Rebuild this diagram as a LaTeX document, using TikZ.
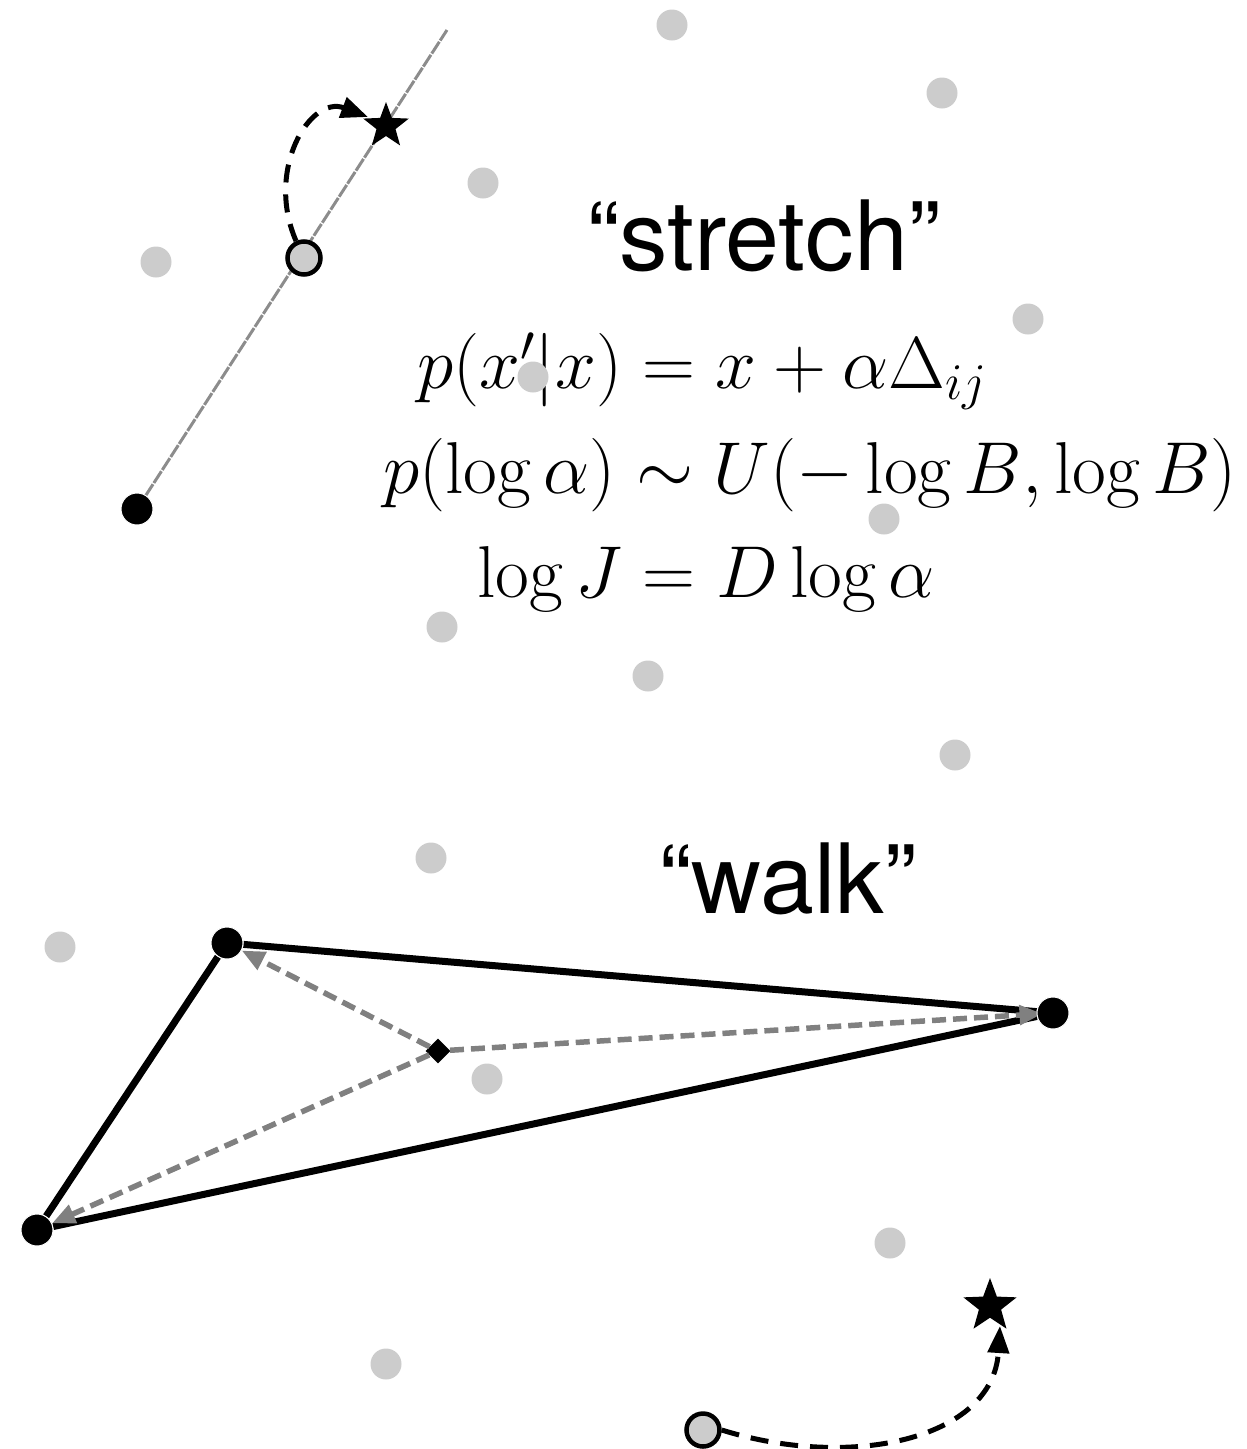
\RequirePackage{fix-cm}
\documentclass[tikz,border=0pt]{standalone}
\usepackage{fontspec}
\newfontfamily\labelfont{TeX Gyre Heros}
\usetikzlibrary{shapes.geometric,arrows.meta}
\tikzset{
  bgdot/.style={circle, fill=black!20, minimum size=31pt, inner sep=0pt},
  blackdot/.style={circle, fill=black, draw=white, line width=1pt, minimum size=32pt, inner sep=0pt},
  opendot/.style={circle, fill=black!20, draw=black, line width=4.5pt, minimum size=33pt, inner sep=0pt},
  starmark/.style={star, star points=5, star point ratio=2.4, fill=black, minimum size=48pt, inner sep=0pt},
  diamark/.style={diamond, fill=black, minimum size=25pt, inner sep=0pt},
  grayline/.style={draw=black!45, line width=3pt, dash pattern=on 14pt off 1.5pt},
  movearrow/.style={draw=black, line width=5pt, dash pattern=on 18pt off 12pt, -{Triangle[length=27pt,width=21pt]}},
  walkedge/.style={draw=black, line width=7pt},
  walkarrow/.style={draw=black!50, line width=5.5pt, dash pattern=on 14pt off 7pt, -{Triangle[length=23pt,width=19pt]}},
  eqnode/.style={anchor=base, inner sep=0pt, font=\fontsize{73.5}{73.5}\selectfont},
  labelnode/.style={anchor=base, inner sep=0pt, font=\labelfont\fontsize{97}{97}\selectfont}
}
\begin{document}
\begin{tikzpicture}[x=1pt,y=-1pt]
\useasboundingbox (0,0) rectangle (1247,1449);

% ---------- stretch move ----------
\coordinate (s0) at (137,509);
\coordinate (stop) at (447,30);
\draw[grayline] (s0) -- (stop);
\node[blackdot] (sA) at (s0) {};
\node[opendot] (sC) at (304,258) {};
\node[starmark] (sStar) at (386,126) {};
\coordinate (sTip) at (368,117);
\draw[movearrow] (sC.115) .. controls (265,170) and (310,95) .. (sTip);

\node[labelnode] (stretchlbl) at (764,270) {“stretch”};
\node[eqnode] (eq1) at (702,388) {$p(x'|x) = x + \alpha\Delta_{ij}$};
\node[eqnode] (eq2) at (810,493) {$p(\log\alpha) \sim U(-\log B, \log B)$};
\node[eqnode] (eq3) at (706,597) {$\log J = D\log\alpha$};

% ---------- walk move ----------
\node[labelnode] (walklbl) at (788,913) {“walk”};
\node[blackdot] (wA) at (227,943) {};
\node[blackdot] (wB) at (1053,1013) {};
\node[blackdot] (wC) at (37,1230) {};
\node[diamark] (wD) at (438,1051) {};
\draw[walkedge] (wA) -- (wB);
\draw[walkedge] (wB) -- (wC);
\draw[walkedge] (wC) -- (wA);
\draw[walkarrow] (wD) -- (wA);
\draw[walkarrow] (wD) -- (wC);
\draw[walkarrow, shorten >=-6pt] (wD) -- (wB);
\node[blackdot] at (wA) {};
\node[blackdot] at (wB) {};
\node[blackdot] at (wC) {};

\node[opendot] (wO) at (703,1430) {};
\node[starmark, minimum size=56pt] (wStar) at (990,1306) {};
\coordinate (wTip) at (1000,1326);
\draw[movearrow] (wO.east) .. controls (850,1470) and (993,1440) .. (wTip);

% ---------- background points ----------
\foreach \px/\py [count=\i] in {672/25, 942/93, 483/183, 156/262, 1028/319, 533/377, 884/519, 442/627, 648/676, 955/755, 431/858, 60/947, 487/1079, 890/1243, 386/1364}
  \node[bgdot] (bg\i) at (\px,\py) {};
\end{tikzpicture}
\end{document}
